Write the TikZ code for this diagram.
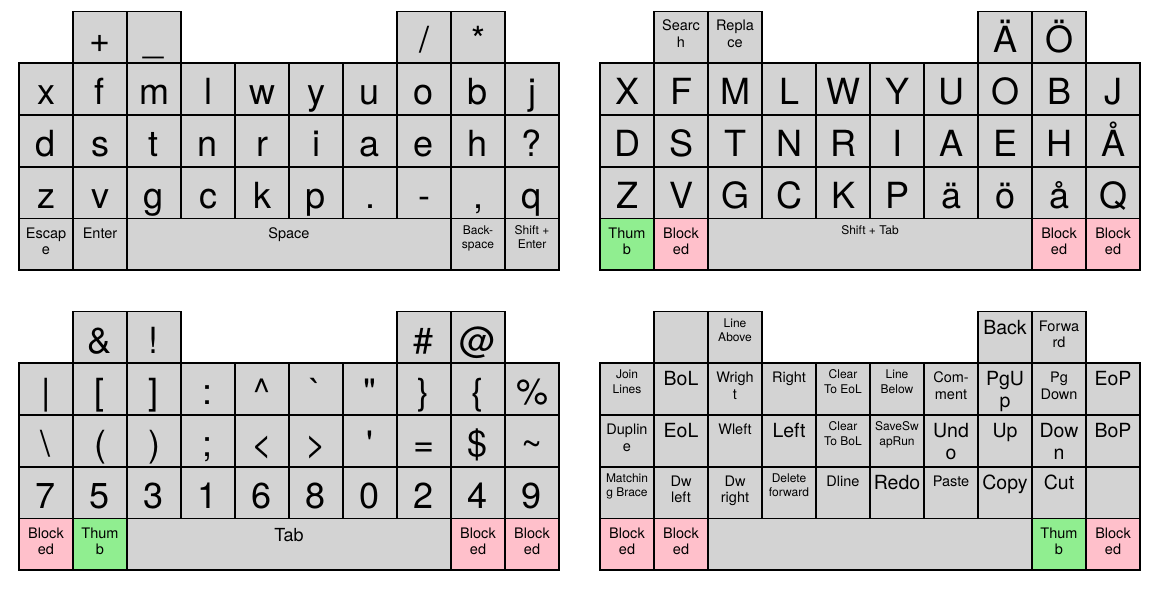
\documentclass[tikz,border=0pt]{standalone}
\usepackage{fontspec}
\newfontfamily\kf{TeX Gyre Heros}
\definecolor{keygray}{HTML}{D3D3D3}
\definecolor{thumbgreen}{HTML}{90EE90}
\definecolor{blockpink}{HTML}{FFC0CB}
\tikzset{
  key/.style={draw=black, line width=1.6pt, fill=keygray, rectangle, inner sep=0pt,
    minimum height=51.75pt, text=black},
  big/.style={font=\kf\fontsize{36}{40}\selectfont, text height=41.5pt, text depth=10.25pt},
  med/.style={font=\kf\fontsize{19.5}{21.5}\selectfont, text height=22.5pt, text depth=29.25pt},
  tabf/.style={font=\kf\fontsize{18}{21}\selectfont, text height=22.5pt, text depth=29.25pt},
  sm/.style={font=\kf\fontsize{14.5}{16.5}\selectfont, text height=19.5pt, text depth=32.25pt},
  xs/.style={font=\kf\fontsize{12}{14.5}\selectfont, text height=15.5pt, text depth=36.25pt},
  thumb/.style={fill=thumbgreen},
  blocked/.style={fill=blockpink}
}
% two centred lines, aligned on the baseline of the first line
\newcommand\two[2]{\vtop{\halign{\hfil##\hfil\cr#1\cr#2\cr}}}
% #1 name, #2 x0 of board, #3 column, #4 y top, #5 columns spanned, #6 styles, #7 text
\newcommand\K[7]{\node[key,#6,minimum width=#5*54pt] (#1) at ({#2+54*#3+27*#5},{#4+25.875}) {#7};}
\begin{document}
\begin{tikzpicture}[x=1pt,y=-1pt]
\fill[white] (0,0) rectangle (1156,599);
\useasboundingbox (0,0) rectangle (1156,599);

% ---------------- top left board ----------------
\K{tlT1}{19}{1}{11.5}{1}{big}{+}
\K{tlT2}{19}{2}{11.5}{1}{big}{\_}
\K{tlT7}{19}{7}{11.5}{1}{big}{/}
\K{tlT8}{19}{8}{11.5}{1}{big}{*}
\foreach \c [count=\i from 0] in {x,f,m,l,w,y,u,o,b,j} {\K{tlA\i}{19}{\i}{63.25}{1}{big}{\c}}
\foreach \c [count=\i from 0] in {d,s,t,n,r,i,a,e,h,?} {\K{tlB\i}{19}{\i}{115}{1}{big}{\c}}
\foreach \c [count=\i from 0] in {z,v,g,c,k,p,.,-,{,},q} {\K{tlC\i}{19}{\i}{166.75}{1}{big}{\c}}
\K{tlD0}{19}{0}{218.5}{1}{sm}{\two{Escap}{e}}
\K{tlD1}{19}{1}{218.5}{1}{sm}{Enter}
\K{tlD2}{19}{2}{218.5}{6}{sm}{Space}
\K{tlD8}{19}{8}{218.5}{1}{xs}{\two{Back-}{space}}
\K{tlD9}{19}{9}{218.5}{1}{xs}{\two{Shift +}{Enter}}

% ---------------- top right board ----------------
\K{trT1}{600}{1}{11.5}{1}{sm}{\two{Searc}{h}}
\K{trT2}{600}{2}{11.5}{1}{sm}{\two{Repla}{ce}}
\K{trT7}{600}{7}{11.5}{1}{big}{Ä}
\K{trT8}{600}{8}{11.5}{1}{big}{Ö}
\foreach \c [count=\i from 0] in {X,F,M,L,W,Y,U,O,B,J} {\K{trA\i}{600}{\i}{63.25}{1}{big}{\c}}
\foreach \c [count=\i from 0] in {D,S,T,N,R,I,A,E,H,Å} {\K{trB\i}{600}{\i}{115}{1}{big}{\c}}
\foreach \c [count=\i from 0] in {Z,V,G,C,K,P,ä,ö,å,Q} {\K{trC\i}{600}{\i}{166.75}{1}{big}{\c}}
\K{trD0}{600}{0}{218.5}{1}{sm,thumb}{\two{Thum}{b}}
\K{trD1}{600}{1}{218.5}{1}{sm,blocked}{\two{Block}{ed}}
\K{trD2}{600}{2}{218.5}{6}{xs}{Shift + Tab}
\K{trD8}{600}{8}{218.5}{1}{sm,blocked}{\two{Block}{ed}}
\K{trD9}{600}{9}{218.5}{1}{sm,blocked}{\two{Block}{ed}}

% ---------------- bottom left board ----------------
\K{blT1}{19}{1}{311.5}{1}{big}{\&}
\K{blT2}{19}{2}{311.5}{1}{big}{!}
\K{blT7}{19}{7}{311.5}{1}{big}{\#}
\K{blT8}{19}{8}{311.5}{1}{big}{@}
\foreach \c [count=\i from 0] in {\textbar,[,],:,\textasciicircum,`,",\},\{,\%} {\K{blA\i}{19}{\i}{363.25}{1}{big}{\c}}
\foreach \c [count=\i from 0] in {\textbackslash,{(},{)},;,<,>,',=,\$,\textasciitilde} {\K{blB\i}{19}{\i}{415}{1}{big}{\c}}
\foreach \c [count=\i from 0] in {7,5,3,1,6,8,0,2,4,9} {\K{blC\i}{19}{\i}{466.75}{1}{big}{\c}}
\K{blD0}{19}{0}{518.5}{1}{sm,blocked}{\two{Block}{ed}}
\K{blD1}{19}{1}{518.5}{1}{sm,thumb}{\two{Thum}{b}}
\K{blD2}{19}{2}{518.5}{6}{tabf}{Tab}
\K{blD8}{19}{8}{518.5}{1}{sm,blocked}{\two{Block}{ed}}
\K{blD9}{19}{9}{518.5}{1}{sm,blocked}{\two{Block}{ed}}

% ---------------- bottom right board ----------------
\K{brT1}{600}{1}{311.5}{1}{sm}{}
\K{brT2}{600}{2}{311.5}{1}{xs}{\two{Line}{Above}}
\K{brT7}{600}{7}{311.5}{1}{med}{Back}
\K{brT8}{600}{8}{311.5}{1}{sm}{\two{Forwa}{rd}}

\K{brA0}{600}{0}{363.25}{1}{xs}{\two{Join}{Lines}}
\K{brA1}{600}{1}{363.25}{1}{med}{BoL}
\K{brA2}{600}{2}{363.25}{1}{sm}{\two{Wrigh}{t}}
\K{brA3}{600}{3}{363.25}{1}{sm}{Right}
\K{brA4}{600}{4}{363.25}{1}{xs}{\two{Clear}{To EoL}}
\K{brA5}{600}{5}{363.25}{1}{xs}{\two{Line}{Below}}
\K{brA6}{600}{6}{363.25}{1}{sm}{\two{Com-}{ment}}
\K{brA7}{600}{7}{363.25}{1}{med}{\two{PgU}{p}}
\K{brA8}{600}{8}{363.25}{1}{sm}{\two{Pg}{Down}}
\K{brA9}{600}{9}{363.25}{1}{med}{EoP}

\K{brB0}{600}{0}{415}{1}{sm}{\two{Duplin}{e}}
\K{brB1}{600}{1}{415}{1}{med}{EoL}
\K{brB2}{600}{2}{415}{1}{sm}{Wleft}
\K{brB3}{600}{3}{415}{1}{med}{Left}
\K{brB4}{600}{4}{415}{1}{xs}{\two{Clear}{To BoL}}
\K{brB5}{600}{5}{415}{1}{xs}{\two{SaveSw}{apRun}}
\K{brB6}{600}{6}{415}{1}{med}{\two{Und}{o}}
\K{brB7}{600}{7}{415}{1}{med}{Up}
\K{brB8}{600}{8}{415}{1}{med}{\two{Dow}{n}}
\K{brB9}{600}{9}{415}{1}{med}{BoP}

\K{brC0}{600}{0}{466.75}{1}{xs}{\two{Matchin}{g Brace}}
\K{brC1}{600}{1}{466.75}{1}{sm}{\two{Dw}{left}}
\K{brC2}{600}{2}{466.75}{1}{sm}{\two{Dw}{right}}
\K{brC3}{600}{3}{466.75}{1}{xs}{\two{Delete}{forward}}
\K{brC4}{600}{4}{466.75}{1}{sm}{Dline}
\K{brC5}{600}{5}{466.75}{1}{med}{Redo}
\K{brC6}{600}{6}{466.75}{1}{sm}{Paste}
\K{brC7}{600}{7}{466.75}{1}{med}{Copy}
\K{brC8}{600}{8}{466.75}{1}{med}{Cut}
\K{brC9}{600}{9}{466.75}{1}{sm}{}

\K{brD0}{600}{0}{518.5}{1}{sm,blocked}{\two{Block}{ed}}
\K{brD1}{600}{1}{518.5}{1}{sm,blocked}{\two{Block}{ed}}
\K{brD2}{600}{2}{518.5}{6}{sm}{}
\K{brD8}{600}{8}{518.5}{1}{sm,thumb}{\two{Thum}{b}}
\K{brD9}{600}{9}{518.5}{1}{sm,blocked}{\two{Block}{ed}}
\end{tikzpicture}
\end{document}
